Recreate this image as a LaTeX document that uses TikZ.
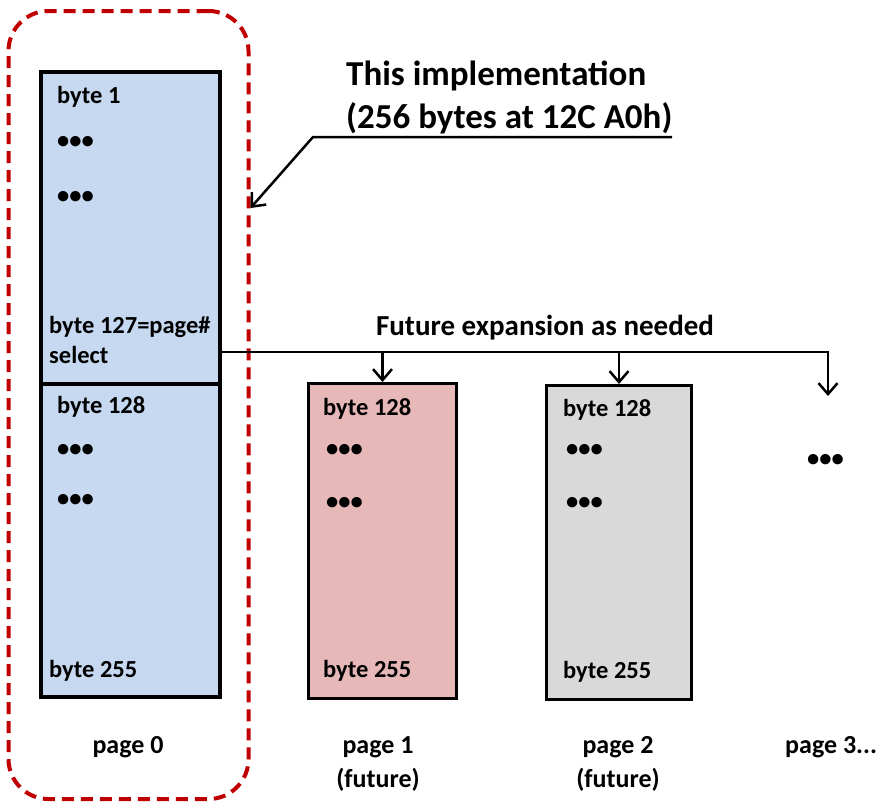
\documentclass[tikz,border=0pt]{standalone}
\usepackage{fontspec}
\setmainfont{Carlito}
\usetikzlibrary{arrows.meta}
\definecolor{pagezero}{HTML}{C6D9F1}
\definecolor{pageone}{HTML}{E6B9B8}
\definecolor{pagetwo}{HTML}{D9D9D9}
\definecolor{implred}{HTML}{C00000}
\newcommand{\FT}{\fontsize{35}{43}\selectfont\bfseries}
\newcommand{\FF}{\fontsize{29}{33}\selectfont\bfseries}
\newcommand{\FB}{\fontsize{24.5}{28}\selectfont\bfseries}
\newcommand{\FP}{\fontsize{26}{34}\selectfont\bfseries}

\begin{document}
\begin{tikzpicture}[x=1pt,y=-1pt]
\tikzstyle{pagebox}=[draw=black,line width=3.5pt,inner sep=0pt,anchor=north west]
\tikzstyle{texto}=[inner sep=0pt,anchor=base west,font=\FB]
\tikzstyle{dots}=[inner sep=0pt,anchor=west,font=\FB]
\tikzstyle{caption}=[inner sep=0pt,anchor=base,font=\FP,align=center]
\tikzstyle{line}=[black,line width=2.5pt]
\tikzstyle{tip}=[-{Straight Barb[length=11pt,width=19pt,line width=2.5pt]}]

\useasboundingbox (0,0) rectangle (888,804);

\node[draw=implred,line width=4pt,dash pattern=on 12pt off 7pt,rounded corners=40pt,
  minimum width=240pt,minimum height=788pt,inner sep=0pt] (frame) at (128.5,405) {};

\node[pagebox,fill=pagezero,minimum width=179pt,minimum height=312pt] (p0top) at (39,70) {};
\node[pagebox,fill=pagezero,minimum width=179pt,minimum height=313pt] (p0bot) at (39,382) {};
\node[pagebox,fill=pageone,line width=3pt,minimum width=148pt,minimum height=315pt] (p1) at (307,382) {};
\node[pagebox,fill=pagetwo,line width=3pt,minimum width=145pt,minimum height=314pt] (p2) at (545,384) {};

\node[texto] (b1) at (57,103) {byte 1};
\node[dots] (d1) at (57,142) {•••};
\node[dots] (d2) at (57,197) {•••};
\node[texto] (b127) at (49,333) {byte 127=page\#};
\node[texto] (sel) at (49,363) {select};
\node[texto] (b128a) at (57,413) {byte 128};
\node[dots] (d3) at (57,450) {•••};
\node[dots] (d4) at (57,500) {•••};
\node[texto] (b255a) at (49,677) {byte 255};

\node[texto] (b128b) at (323,415) {byte 128};
\node[dots] (d5) at (326,450) {•••};
\node[dots] (d6) at (326,503) {•••};
\node[texto] (b255b) at (323,677) {byte 255};

\node[texto] (b128c) at (563,416) {byte 128};
\node[dots] (d7) at (566,450) {•••};
\node[dots] (d8) at (566,503) {•••};
\node[texto] (b255c) at (563,678) {byte 255};

\node[dots] (d9) at (807,460) {•••};

\node[inner sep=0pt,anchor=base west,font=\FT,align=left] (impl) at (346,128)
  {This implementation\\(256 bytes at 12C A0h)};
\node[inner sep=0pt,anchor=base,font=\FF] (future) at (545,335) {Future expansion as needed};

\node[caption] (c0) at (128,753) {page 0};
\node[caption] (c1) at (378,787) {page 1\\(future)};
\node[caption] (c2) at (618,787) {page 2\\(future)};
\node[caption,anchor=base west] (c3) at (785,753) {page 3...};

\coordinate (ulr) at (672,137);
\coordinate (knee) at (313,137);
\coordinate (busr) at (828,352);
\coordinate (more) at (828,396);

\draw[line,tip] (ulr) -- (knee) -- (frame.east |- 0,208);
\draw[line,tip] (p0top.east |- busr) -- (busr) -- (more);
\draw[line,tip] (p1.north |- busr) -- (p1.north);
\draw[line,tip] (p2.north |- busr) -- (p2.north);
\end{tikzpicture}
\end{document}
